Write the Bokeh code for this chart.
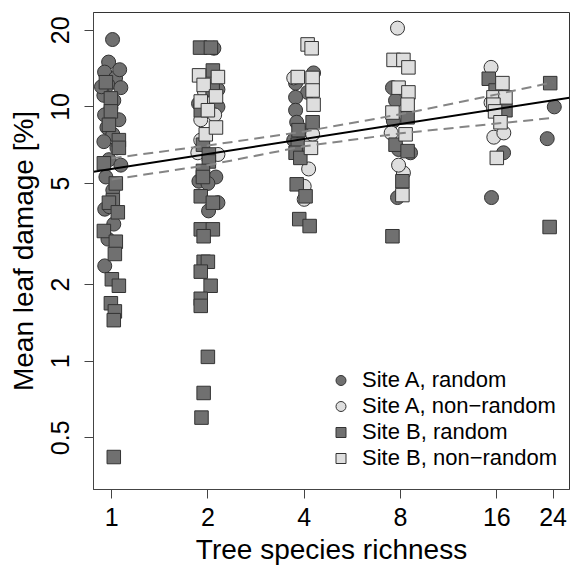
from bokeh.plotting import figure
from bokeh.models import Range1d, FixedTicker, Legend, LegendItem
from bokeh.embed import file_html
from bokeh.resources import INLINE

# ---- axis ticks ----
richness_ticks = [1, 2, 4, 8, 16, 24]
richness_labels = ["1", "2", "4", "8", "16", "24"]
damage_ticks = [0.5, 1, 2, 5, 10, 20]
damage_labels = ["0.5", "1", "2", "5", "10", "20"]

# ---- Site A, random (jittered richness, mean leaf damage %) ----
a_random_x = [1.007, 0.979, 0.951, 1.029, 0.974, 1.069, 0.946, 1.016, 0.995, 0.951, 1.054, 0.967, 1.009,
              0.946, 1.039, 0.981, 1.069, 0.96, 1.009, 0.952, 1.016, 0.974, 0.952, 0.93, 1.06, 0.985,
              2.088, 2.15, 2.118, 1.875, 2.0, 2.01, 2.15, 1.87, 2.15,
              4.28, 3.76, 4.10, 3.76, 3.76, 3.79, 3.71, 3.9,
              7.55, 7.72, 7.89, 8.6, 7.83, 7.6,
              16.8, 15.4,
              24.2, 23.0]
a_random_y = [18.4, 15.0, 13.7, 13.0, 12.2, 11.9, 11.1, 10.6, 9.9, 9.3, 8.9, 8.3, 7.8,
              7.3, 6.9, 6.2, 5.9, 5.3, 4.7, 3.96, 3.46, 3.02, 2.37, 12.0, 14.0, 4.05,
              17.0, 10.0, 5.3, 5.1, 5.0, 3.9, 4.2, 10.3, 11.7,
              13.6, 12.4, 11.4, 10.9, 9.7, 8.7, 7.4, 8.0,
              11.9, 10.6, 6.8, 6.6, 4.4, 8.8,
              6.6, 4.4,
              10.0, 7.5]

# ---- Site A, non-random ----
a_nonrandom_x = [1.90, 1.86, 2.15, 1.95, 2.10, 1.90,
                 3.71, 4.25, 4.13, 4.0, 4.0,
                 7.83, 7.48, 8.17, 7.89,
                 15.35, 15.35, 15.66, 16.83]
a_nonrandom_y = [8.9, 6.6, 6.5, 11.5, 9.3, 7.4,
                 13.0, 7.8, 5.7, 4.87, 4.33,
                 20.4, 7.9, 5.5, 5.9,
                 14.3, 10.4, 7.6, 7.9]

# ---- Site B, random ----
b_random_x = [0.96, 0.995, 0.995, 0.981, 1.054, 1.054, 0.946, 1.031, 1.009, 0.981, 1.046, 0.946, 1.031,
              1.024, 1.002, 1.054, 0.995, 1.024, 1.016, 1.016,
              1.89, 2.044, 2.073, 1.90, 1.93, 2.014, 2.014, 1.93, 1.93, 1.90, 2.073, 1.90, 2.073,
              1.94, 1.94, 2.0, 1.90, 2.04, 1.90, 1.90, 2.0, 1.94, 1.91, 2.07,
              4.25, 3.84, 3.82, 3.76, 3.89, 3.79, 4.04, 3.86, 4.16,
              8.42, 7.72, 8.42, 8.11, 7.55,
              15.1, 15.86, 17.03,
              23.5, 23.4]
b_random_y = [12.5, 10.8, 9.6, 8.5, 7.4, 6.9, 6.0, 5.0, 4.3, 4.2, 3.85, 3.25, 2.95,
              2.64, 2.1, 1.98, 1.69, 1.57, 1.45, 0.42,
              17.1, 17.1, 13.9, 9.7, 7.1, 6.5, 6.1, 5.6, 5.3, 4.45, 4.2, 3.3, 3.3,
              3.1, 2.46, 2.46, 2.25, 1.98, 1.76, 1.65, 1.04, 0.75, 0.60, 11.7,
              8.7, 8.1, 7.1, 6.6, 6.3, 4.96, 4.45, 3.62, 3.4,
              9.1, 7.1, 6.7, 5.1, 3.1,
              12.9, 11.6, 9.7,
              12.4, 3.37]

# ---- Site B, non-random ----
b_nonrandom_x = [1.877, 2.15, 1.94, 2.12, 1.90, 2.0, 1.97, 2.12,
                 4.1, 4.22, 3.82, 4.25, 4.25, 4.28, 4.2,
                 7.61, 8.17, 8.47, 7.89, 8.47, 8.42, 7.55, 8.3, 8.11,
                 16.66, 15.62, 17.03, 15.62, 15.8, 16.43, 16.0]
b_nonrandom_y = [13.3, 13.1, 12.2, 11.0, 10.5, 9.7, 7.8, 8.3,
                 17.6, 17.0, 13.1, 13.0, 11.6, 10.2, 6.9,
                 15.3, 15.3, 14.3, 11.9, 11.4, 10.2, 9.5, 7.8, 4.5,
                 12.4, 10.9, 10.9, 10.2, 9.6, 8.7, 6.3]

# ---- fitted line and confidence band ----
fit_x = [0.878, 27]
fit_y = [5.56, 10.87]
ci_x = [1, 2, 4, 8, 16, 24]
ci_upper = [6.28, 7.05, 8.0, 9.35, 11.2, 12.5]
ci_lower = [5.18, 5.9, 7.0, 7.87, 8.6, 9.05]

series_labels = ["Site A, random", "Site A, non\u2212random",
                 "Site B, random", "Site B, non\u2212random"]

FONT = "Liberation Sans"
DARK = "#707070"
LIGHT = "#dedede"
EDGE = "#333333"
NAN = float("nan")

p = figure(width=571, height=567, x_axis_type="log", y_axis_type="log",
           x_range=Range1d(0.878, 27), y_range=Range1d(0.313, 23.5),
           output_backend="svg", toolbar_location=None,
           min_border_left=93, min_border_right=2, min_border_top=12, min_border_bottom=75)
p.grid.visible = False
p.outline_line_color = "#333333"
p.outline_line_width = 1

styles = [("circle", 14, DARK), ("circle", 14, LIGHT), ("square", 13.5, DARK), ("square", 13.5, LIGHT)]
data = [(a_random_x, a_random_y), (a_nonrandom_x, a_nonrandom_y),
        (b_random_x, b_random_y), (b_nonrandom_x, b_nonrandom_y)]

for (mk, sz, fc), (xs, ys) in zip(styles, data):
    p.scatter(xs, ys, marker=mk, size=sz, fill_color=fc, line_color=EDGE, line_width=1)

p.line(ci_x, ci_upper, line_color="#858585", line_width=2, line_dash="10 6")
p.line(ci_x, ci_lower, line_color="#858585", line_width=2, line_dash="10 6")
p.line(fit_x, fit_y, line_color="black", line_width=2)

# legend-only renderers (a single NaN point, never visible) with smaller legend symbols
legend_items = []
for (mk, sz, fc), lab in zip(styles, series_labels):
    lr = p.scatter(x=[NAN], y=[NAN], marker=mk, size=(10 if mk == "circle" else 9),
                   fill_color=fc, line_color=EDGE, line_width=1)
    legend_items.append(LegendItem(label=lab, renderers=[lr]))

for ax in (p.xaxis[0], p.yaxis[0]):
    ax.minor_tick_line_color = None
    ax.major_tick_in = 0
    ax.major_tick_out = 9
    ax.major_tick_line_color = "#444444"
    ax.axis_line_color = "#444444"
    ax.major_label_text_font = FONT
    ax.major_label_text_font_size = "25px"
    ax.major_label_text_color = "black"
    ax.axis_label_text_font = FONT
    ax.axis_label_text_font_size = "28px"
    ax.axis_label_text_font_style = "normal"
    ax.axis_label_text_color = "black"

xa = p.xaxis[0]
xa.ticker = FixedTicker(ticks=richness_ticks)
xa.major_label_overrides = dict(zip(richness_ticks, richness_labels))
xa.axis_label = "Tree species richness"
xa.major_label_standoff = 9
xa.axis_label_standoff = 5

ya = p.yaxis[0]
ya.ticker = FixedTicker(ticks=damage_ticks)
ya.major_label_overrides = dict(zip(damage_ticks, damage_labels))
ya.major_label_orientation = "vertical"
ya.axis_label = "Mean leaf damage [%]"
ya.major_label_standoff = 15
ya.axis_label_standoff = 10

legend = Legend(items=legend_items,
                location=(235, 18), orientation="vertical",
                background_fill_alpha=0, border_line_color=None,
                label_text_font=FONT, label_text_font_size="22px",
                label_text_color="black",
                glyph_width=25, glyph_height=26, label_height=26,
                label_standoff=9, spacing=0, padding=0, margin=0)
p.add_layout(legend)

open("out.html", "w").write(file_html(p, INLINE))
